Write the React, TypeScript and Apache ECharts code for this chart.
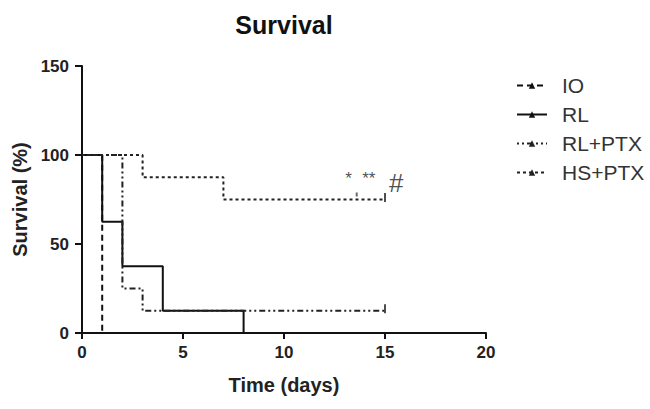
import React, { useEffect, useRef } from "react";
import * as echarts from "echarts";

const seriesNames = ["IO", "RL", "RL+PTX", "HS+PTX"];
const ioData = [[0, 100], [1, 0]];
const rlData = [[0, 100], [1, 62.5], [2, 37.5], [4, 12.5], [8, 0]];
const rlPtxData = [[0, 100], [2, 25], [3, 12.5], [15, 12.5]];
const hsPtxData = [[0, 100], [3, 87.5], [7, 75], [15, 75]];
const censorData = [[15, 12.5], [15, 75]];
const smallCensorData = [[13.6, 75]];
const xTicks = { min: 0, max: 20, interval: 5 };
const yTicks = { min: 0, max: 150, interval: 50 };
const notes = [
  { x: 13.2, y: 75, text: "*", size: 17, dy: -21 },
  { x: 14.2, y: 75, text: "**", size: 17, dy: -21 },
  { x: 15.55, y: 75, text: "#", size: 26, dy: -17 },
];

const FONT = "'Liberation Sans', Arial, sans-serif";

export default function App() {
  const ref = useRef<HTMLDivElement>(null);
  useEffect(() => {
    if (!ref.current) return;
    const chart = echarts.init(ref.current, undefined, { renderer: "svg" });
    const lineCommon = {
      type: "line",
      step: "end",
      symbol: "triangle",
      showSymbol: false,
      animation: false,
    };
    chart.setOption({
      animation: false,
      backgroundColor: "#fff",
      textStyle: { fontFamily: FONT },
      title: {
        text: "Survival",
        left: 279,
        top: 7,
        textAlign: "center",
        textStyle: { fontFamily: FONT, fontWeight: "bold", fontSize: 25, color: "#111" },
      },
      legend: {
        data: seriesNames,
        orient: "vertical",
        left: 511,
        top: 70,
        itemWidth: 30,
        itemHeight: 8,
        itemGap: 8,
        textStyle: { fontFamily: FONT, fontSize: 21, color: "#333", padding: [0, 0, 0, 10] },
      },
      grid: { left: 82, right: 164, top: 66, bottom: 76 },
      xAxis: {
        type: "value",
        ...xTicks,
        name: "Time (days)",
        nameLocation: "middle",
        nameGap: 42,
        nameTextStyle: { fontFamily: FONT, fontWeight: "bold", fontSize: 20, color: "#222" },
        axisLine: { show: true, lineStyle: { color: "#111", width: 2 } },
        axisTick: { show: true, length: 6, lineStyle: { color: "#111", width: 2 } },
        axisLabel: { fontFamily: FONT, fontWeight: "bold", fontSize: 17, color: "#222", margin: 11 },
        splitLine: { show: false },
      },
      yAxis: {
        type: "value",
        ...yTicks,
        name: "Survival (%)",
        nameLocation: "middle",
        nameGap: 52,
        nameTextStyle: { fontFamily: FONT, fontWeight: "bold", fontSize: 20, color: "#222" },
        axisLine: { show: true, lineStyle: { color: "#111", width: 2 } },
        axisTick: { show: true, length: 7, lineStyle: { color: "#111", width: 2 } },
        axisLabel: { fontFamily: FONT, fontWeight: "bold", fontSize: 17, color: "#222", margin: 13 },
        splitLine: { show: false },
      },
      series: [
        { ...lineCommon, name: "IO", data: ioData, lineStyle: { color: "#111", width: 2, type: [6, 4] }, itemStyle: { color: "#111" } },
        { ...lineCommon, name: "RL", data: rlData, lineStyle: { color: "#111", width: 2, type: "solid" }, itemStyle: { color: "#111" } },
        { ...lineCommon, name: "RL+PTX", data: rlPtxData, lineStyle: { color: "#222", width: 2, type: [2, 3, 2, 3, 6, 3] }, itemStyle: { color: "#222" } },
        { ...lineCommon, name: "HS+PTX", data: hsPtxData, lineStyle: { color: "#222", width: 2, type: [3, 3] }, itemStyle: { color: "#222" } },
        {
          type: "scatter",
          name: "censor",
          data: censorData,
          symbol: "rect",
          symbolSize: [2, 9],
          symbolOffset: [0, -2],
          itemStyle: { color: "#222" },
          z: 5,
        },
        {
          type: "scatter",
          name: "censor2",
          data: smallCensorData,
          symbol: "rect",
          symbolSize: [2, 4],
          symbolOffset: [0, -5],
          itemStyle: { color: "#444" },
          z: 5,
        },
        {
          type: "scatter",
          name: "notes",
          symbolSize: 0,
          data: notes.map((n) => ({
            value: [n.x, n.y],
            name: n.text,
            label: { fontSize: n.size, offset: [0, n.dy] },
          })),
          label: {
            show: true,
            position: "inside",
            formatter: (p: any) => p.name,
            fontFamily: FONT,
            color: "#222",
          },
        },
      ],
    });
    return () => chart.dispose();
  }, []);
  return <div ref={ref} style={{ width: 650, height: 409, position: "absolute", left: 0, top: 0 }} />;
}
